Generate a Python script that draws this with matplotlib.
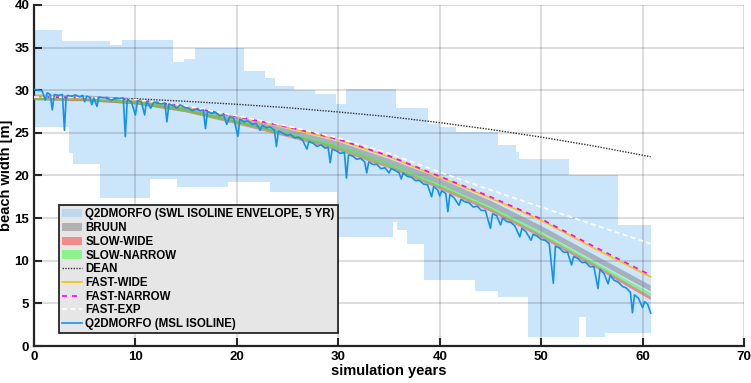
import matplotlib
matplotlib.use('Agg')
import matplotlib.pyplot as plt
import numpy as np

plt.rcParams['font.family'] = ['Liberation Sans', 'DejaVu Sans']
plt.rcParams['font.weight'] = 'bold'

# ---------------- data ----------------
# SWL isoline envelope (5 yr), step edges [years] and values [m]
upper_edges = [0, 2.8, 7.5, 8.7, 13.7, 14.8, 15.9, 20.7, 22.8, 23.8, 25.6, 27.7, 29.8, 30.8,
               35.7, 38.8, 40.0, 41.6, 45.7, 47.5, 47.8, 52.7, 57.6, 60.8]
upper_vals = [37.1, 35.8, 35.35, 35.9, 33.3, 33.7, 35.0, 32.2, 31.4, 30.5, 30.0, 29.6, 28.4,
              30.2, 27.9, 26.0, 25.65, 25.1, 23.6, 22.8, 21.9, 20.0, 14.2]
lower_edges = [0, 3.4, 3.85, 6.5, 11.4, 14.1, 19.1, 23.3, 29.9, 35.4, 35.8, 36.8, 38.4,
               43.5, 45.7, 48.7, 53.7, 54.4, 56.3, 60.8]
lower_vals = [25.7, 22.6, 21.3, 17.4, 19.6, 18.6, 19.2, 18.1, 12.75, 14.6, 13.6, 12.0,
              7.7, 6.5, 5.7, 1.1, 3.4, 1.1, 1.5]

# model curves
model_years = [0, 5, 10, 15, 20, 25, 30, 35, 40, 45, 50, 55, 60.8]
bruun = [29.15, 29.05, 28.7, 27.8, 26.5, 25.1, 23.6, 21.6, 19.3, 16.7, 13.75, 10.5, 6.75]
slow_wide = [29.1, 28.95, 28.55, 27.6, 26.2, 24.7, 23.1, 21.05, 18.6, 15.95, 12.9, 9.6, 5.6]
slow_narrow = [29.1, 29.0, 28.6, 27.65, 26.3, 24.85, 23.3, 21.25, 18.8, 16.2, 13.15, 9.85, 6.0]
dean = [29.2, 29.1, 29.0, 28.7, 28.35, 27.95, 27.45, 26.9, 26.2, 25.4, 24.5, 23.5, 22.2]
fast_wide = [29.2, 29.1, 28.85, 28.05, 26.85, 25.6, 24.15, 22.2, 19.8, 17.35, 14.75, 11.6, 8.1]
fast_narrow = [29.2, 29.15, 28.9, 28.1, 26.9, 25.7, 24.25, 22.3, 19.9, 17.5, 14.9, 11.8, 8.3]
fast_exp = [29.2, 29.15, 28.9, 28.15, 27.0, 25.8, 24.4, 22.6, 20.4, 18.3, 16.3, 14.3, 12.0]
bruun_spread = 0.35
slow_spread = 0.2

# Q2DMORFO MSL isoline
msl_years = [0.0, 0.4, 0.8, 1.1, 1.3, 1.6, 1.8, 2.0, 2.4, 2.8, 3.0, 3.15, 3.3, 3.7, 4.1, 4.5, 4.8,
             5.0, 5.2, 5.5, 5.7, 5.9, 6.2, 6.4, 6.8, 7.2, 7.6, 8.0, 8.4, 8.8, 9.0, 9.2, 9.6, 10.0,
             10.2, 10.6, 10.9, 11.1, 11.5, 11.8, 12.2, 12.6, 12.9, 13.1, 13.3, 13.7, 14.1, 14.4,
             14.8, 15.2, 15.6, 16.0, 16.4, 16.7, 16.9, 17.1, 17.5, 17.9, 18.3, 18.7, 19.0, 19.3,
             19.7, 20.1, 20.3, 20.7, 21.1, 21.5, 21.9, 22.3, 22.5, 22.9, 23.3, 23.7, 23.9, 24.1,
             24.5, 24.9, 25.3, 25.7, 26.1, 26.5, 26.9, 27.1, 27.5, 27.9, 28.3, 28.7, 29.0, 29.2,
             29.4, 29.8, 30.2, 30.6, 30.8, 31.0, 31.4, 31.8, 32.2, 32.6, 32.8, 33.0, 33.4, 33.8,
             34.2, 34.6, 35.0, 35.2, 35.6, 36.0, 36.2, 36.4, 36.8, 37.2, 37.6, 38.0, 38.4, 38.8,
             39.2, 39.4, 39.8, 40.0, 40.2, 40.6, 40.8, 41.0, 41.4, 41.9, 42.1, 42.5, 42.9, 43.3,
             43.7, 44.1, 44.5, 45.0, 45.2, 45.6, 46.0, 46.2, 46.6, 47.0, 47.4, 47.9, 48.1, 48.5,
             49.0, 49.2, 49.6, 50.0, 50.4, 50.8, 51.2, 51.4, 51.8, 52.2, 52.6, 53.0, 53.2, 53.6,
             54.0, 54.4, 54.8, 55.2, 55.6, 55.8, 56.2, 56.6, 56.8, 57.2, 57.6, 58.0, 58.4, 58.8,
             59.0, 59.2, 59.6, 60.0, 60.2, 60.5, 60.8]
msl_width = [30.1, 30.0, 29.95, 28.85, 29.7, 29.5, 27.7, 29.5, 29.4, 29.5, 25.3, 28.85, 29.4, 29.3,
             29.45, 29.2, 29.4, 28.65, 29.3, 29.15, 28.3, 29.1, 28.1, 29.2, 29.1, 29.15, 28.8, 29.1,
             29.0, 29.1, 24.55, 29.0, 28.6, 27.1, 28.8, 28.6, 27.1, 28.7, 27.9, 28.6, 28.5, 28.4,
             28.5, 26.3, 28.4, 28.2, 27.9, 28.3, 28.0, 27.9, 27.6, 27.8, 27.6, 27.7, 25.5, 27.5,
             27.3, 27.4, 27.0, 27.1, 26.0, 26.9, 26.7, 24.6, 26.6, 26.3, 26.4, 26.0, 26.1, 25.3,
             25.9, 25.6, 25.7, 25.3, 23.4, 25.2, 25.0, 24.7, 24.8, 24.4, 24.5, 24.1, 23.1, 24.0,
             23.8, 23.4, 23.6, 23.2, 23.3, 21.5, 23.1, 22.9, 22.6, 22.7, 19.7, 22.4, 22.3, 21.9,
             22.0, 21.6, 20.3, 21.6, 21.3, 21.3, 20.8, 20.9, 20.3, 20.8, 20.6, 20.3, 19.6, 20.3,
             19.9, 19.8, 19.4, 19.4, 19.0, 18.9, 17.5, 18.7, 18.3, 17.6, 18.2, 17.9, 15.75, 17.8,
             17.4, 16.5, 17.2, 16.9, 16.8, 16.3, 16.4, 15.9, 15.9, 13.8, 15.5, 15.3, 14.2, 15.0,
             14.6, 14.5, 14.1, 12.8, 13.8, 13.4, 12.4, 13.1, 12.9, 12.5, 12.4, 12.0, 7.35, 11.7,
             11.5, 11.0, 11.0, 9.5, 10.5, 10.3, 9.8, 9.8, 9.3, 9.3, 6.75, 9.0, 8.5, 7.3, 8.3, 7.7,
             7.5, 7.0, 6.8, 6.3, 3.9, 6.0, 5.6, 4.5, 5.2, 4.9, 3.85]

x_ticks = [0, 10, 20, 30, 40, 50, 60, 70]
y_ticks = [0, 5, 10, 15, 20, 25, 30, 35, 40]

# ---------------- plot ----------------
fig = plt.figure(figsize=(7.51, 3.83), dpi=100)
ax = fig.add_axes([0.0453, 0.0966, 0.9454, 0.8904])

ux, uy = [], []
for i, v in enumerate(upper_vals):
    ux += [upper_edges[i], upper_edges[i + 1]]
    uy += [v, v]
lx, ly = [], []
for i, v in enumerate(lower_vals):
    lx += [lower_edges[i], lower_edges[i + 1]]
    ly += [v, v]
env = ax.fill(ux + lx[::-1], uy + ly[::-1], facecolor=(0.55, 0.78, 0.97), alpha=0.45,
              lw=0, zorder=1, label='Q2DMORFO (SWL ISOLINE ENVELOPE, 5 YR)')[0]

my = np.array(model_years)
b = np.array(bruun)
h_b = ax.fill_between(my, b - bruun_spread, b + bruun_spread, facecolor=(0.5, 0.5, 0.5),
                      alpha=0.5, lw=0, zorder=3, label='BRUUN')
sw = np.array(slow_wide)
h_sw = ax.fill_between(my, sw - slow_spread, sw + slow_spread, facecolor=(1.0, 0.2, 0.2),
                       alpha=0.5, lw=0, zorder=3, label='SLOW-WIDE')
sn = np.array(slow_narrow)
h_sn = ax.fill_between(my, sn - slow_spread, sn + slow_spread, facecolor=(0.2, 1.0, 0.2),
                       alpha=0.5, lw=0, zorder=3, label='SLOW-NARROW')
h_d, = ax.plot(my, dean, color='#333333', lw=1.0, ls=(0, (1, 1)), zorder=4, label='DEAN')
h_fw, = ax.plot(my, fast_wide, color='#FFC000', lw=1.2, zorder=4, label='FAST-WIDE')
h_fn, = ax.plot(my, fast_narrow, color='#FF00FF', lw=1.2, ls=(0, (3, 3)), zorder=4,
                label='FAST-NARROW')
h_fe, = ax.plot(my, fast_exp, color='white', lw=1.2, ls=(0, (3, 2)), zorder=4, label='FAST-EXP')
h_m, = ax.plot(msl_years, msl_width, color='#1192F0', lw=1.2, zorder=5,
               label='Q2DMORFO (MSL ISOLINE)')

ax.set_xlim(0, 70)
ax.set_ylim(0, 40)
ax.set_xticks(x_ticks)
ax.set_yticks(y_ticks)
ax.grid(True, color='k', alpha=0.15, lw=1.3)
ax.set_axisbelow(False)
for s in ['top', 'right']:
    ax.spines[s].set_visible(False)
for s in ['left', 'bottom']:
    ax.spines[s].set_linewidth(1.6)
    ax.spines[s].set_color('#262626')
ax.tick_params(direction='in', length=6, width=1.5, color='#262626', labelsize=9.5, pad=3.5)
for t in ax.get_xticklabels() + ax.get_yticklabels():
    t.set_fontweight('bold')
ax.set_xlabel('simulation years', fontsize=10.5, fontweight='bold', labelpad=1)
ax.set_ylabel('beach width [m]', fontsize=10.5, fontweight='bold', labelpad=1)

leg = ax.legend(handles=[env, h_b, h_sw, h_sn, h_d, h_fw, h_fn, h_fe, h_m],
                loc='lower left', bbox_to_anchor=(0.035, 0.038), borderaxespad=0,
                prop={'weight': 'bold', 'size': 8.3},
                fancybox=False, framealpha=1, facecolor='#E6E6E6', edgecolor='#262626',
                handlelength=1.75, handletextpad=0.3, labelspacing=0.15, borderpad=0.25)
leg.get_frame().set_linewidth(1.3)
leg.set_zorder(10)

fig.savefig('out.png', dpi=100)
